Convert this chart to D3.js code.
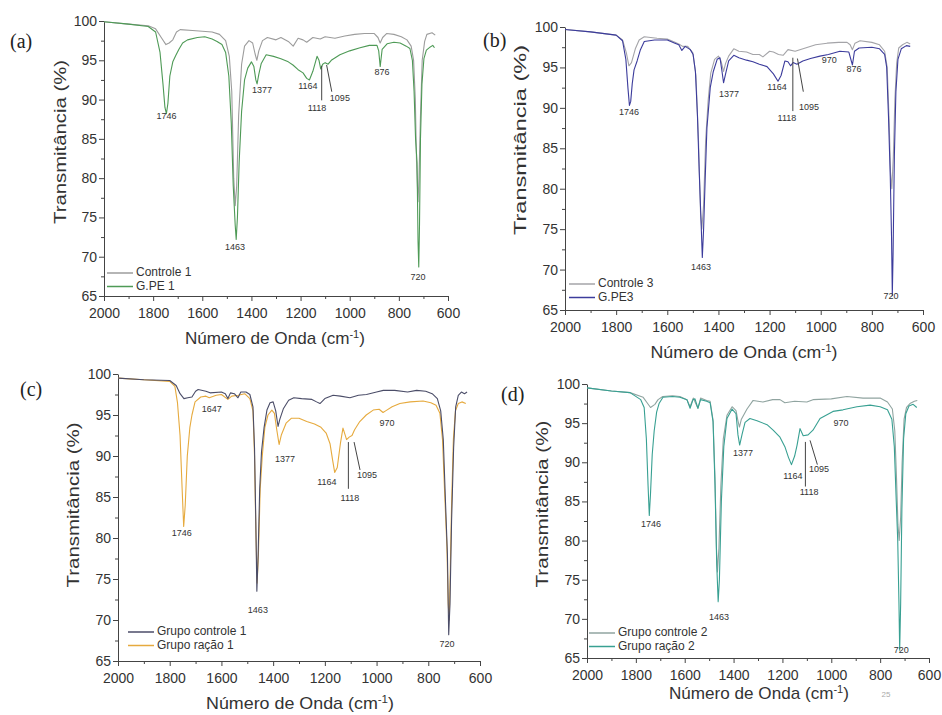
<!DOCTYPE html>
<html>
<head>
<meta charset="utf-8">
<script src="https://cdn.jsdelivr.net/npm/d3@7"></script>
<style>
  body { margin: 0; background: #fff; }
  svg { display: block; font-family: Arial, "Liberation Sans", sans-serif; }
</style>
</head>
<body>
<div id="chart"></div>
<script>
// axis ticks
const waveTicks = [2000, 1800, 1600, 1400, 1200, 1000, 800, 600];
const waveMinor = [1900, 1700, 1500, 1300, 1100, 900, 700];
const transTicks = [65, 70, 75, 80, 85, 90, 95, 100];
const transMinor = [67.5, 72.5, 77.5, 82.5, 87.5, 92.5, 97.5];

// (a) [wavenumber, transmittance]
const controle1 = [[2000,99.9],[1900,99.6],[1820,99.4],[1790,99.0],[1765,97.8],[1748,97.0],[1735,97.2],[1720,97.6],[1705,98.6],[1690,98.9],[1640,98.8],[1600,98.7],[1560,98.6],[1530,98.3],[1505,97.5],[1490,95.5],[1480,91],[1472,80],[1466,76.5],[1460,79],[1452,88],[1440,94.5],[1428,96.8],[1410,97.5],[1395,97.2],[1385,95.8],[1378,95.0],[1370,96.2],[1355,97.5],[1335,97.9],[1300,97.6],[1280,97.9],[1250,97.4],[1230,96.8],[1210,97.8],[1190,97.6],[1175,97.3],[1150,97.9],[1120,97.7],[1100,98.0],[1060,97.8],[1020,98.1],[980,98.3],[940,98.4],[900,98.4],[885,97.9],[876,97.2],[866,97.9],[850,98.4],[820,98.3],[790,98.0],[767,97.6],[750,96.8],[740,95.0],[733,90],[728,82],[722,77],[718,80],[712,88],[705,95],[695,97.4],[686,98.3],[665,98.5],[652,98.2]];
const gpe1 = [[2000,99.9],[1900,99.6],[1820,99.3],[1790,98.6],[1772,96],[1760,92],[1752,89],[1746,88.2],[1740,89.5],[1732,93],[1720,94.8],[1708,95.6],[1695,96.4],[1680,97.2],[1660,97.6],[1620,97.9],[1590,98.0],[1560,97.7],[1540,97.4],[1520,97.0],[1505,96.0],[1492,93],[1482,87],[1474,79],[1466,74],[1462,72.2],[1457,75],[1450,82],[1440,88.5],[1428,92.5],[1415,94.0],[1400,94.8],[1390,94.2],[1382,92.5],[1377,92.0],[1370,93.2],[1360,94.6],[1340,95.7],[1310,95.5],[1280,95.2],[1250,94.8],[1231,94.4],[1210,93.8],[1190,93.4],[1175,92.7],[1164,92.5],[1150,93.6],[1133,95.5],[1125,95.0],[1118,93.9],[1110,94.5],[1100,94.7],[1088,94.5],[1075,95.0],[1040,95.7],[1000,96.2],[958,96.6],[920,96.9],[889,96.9],[882,96.2],[876,94.2],[868,96.4],[848,97.1],[820,97.3],[795,97.2],[770,96.8],[755,96.5],[745,95.0],[738,91],[732,85],[726,82],[722,72],[719,68.7],[716,74],[712,85],[706,92],[698,95.2],[688,96.3],[672,96.7],[662,96.9],[655,96.6]];

// (b)
const controle3 = [[2000,99.7],[1900,99.4],[1800,99.0],[1775,98.4],[1760,96.8],[1750,95.2],[1740,95.6],[1725,97.3],[1710,98.4],[1690,98.8],[1640,98.6],[1600,98.5],[1570,98.1],[1555,97.9],[1540,97.6],[1520,97.6],[1500,96.8],[1488,94],[1478,86],[1470,77],[1465,75],[1458,78],[1450,86],[1440,91],[1430,94.3],[1415,96.0],[1400,96.4],[1390,95.8],[1380,94.5],[1372,95.5],[1360,96.4],[1340,97.3],[1320,97.0],[1290,96.9],[1265,96.6],[1240,96.6],[1226,96.3],[1200,97.0],[1185,96.9],[1165,96.6],[1147,96.5],[1128,97.2],[1100,97.0],[1060,97.4],[1020,97.8],[975,98.0],[930,98.1],[897,98.1],[885,97.8],[876,97.2],[866,98.0],[846,98.3],[800,98.1],[770,97.8],[750,97.0],[740,95],[732,88],[727,82],[722,80],[716,84],[710,91],[703,95.5],[695,97.4],[680,97.8],[663,98.1],[650,97.9]];
const gpe3 = [[2000,99.7],[1900,99.4],[1800,99.0],[1775,98.3],[1762,96],[1754,92.5],[1748,90.3],[1743,90.8],[1737,93],[1730,94.7],[1718,95.8],[1705,97.2],[1690,98.2],[1650,98.4],[1600,98.4],[1570,98.0],[1555,97.8],[1543,97.1],[1530,97.6],[1510,97.2],[1499,96.6],[1490,94.5],[1482,89],[1475,82],[1468,76],[1463,71.5],[1458,75],[1452,81],[1445,87.5],[1432,92.5],[1420,94.5],[1405,96.0],[1394,96.2],[1386,94.5],[1380,93.1],[1372,94.2],[1360,95.8],[1340,96.5],[1320,96.2],[1290,95.9],[1265,95.7],[1240,95.4],[1210,95.1],[1185,94.2],[1167,93.3],[1155,94.0],[1140,95.8],[1128,95.7],[1118,95.2],[1108,95.6],[1093,95.4],[1070,95.8],[1040,96.1],[1003,96.4],[970,96.6],[925,97.0],[890,96.9],[876,95.3],[868,97.0],[850,97.4],[800,97.5],[770,97.3],[750,96.6],[742,95],[735,89],[728,81.5],[723,74],[720,66.8],[717,72],[712,84],[706,92],[698,96],[685,97.3],[665,97.7],[650,97.6]];

// (c)
const grupoControle1 = [[2000,99.5],[1900,99.3],[1800,99.2],[1775,98.6],[1760,97.6],[1745,97.0],[1730,97.1],[1714,97.2],[1700,97.9],[1690,98.1],[1660,97.9],[1644,97.7],[1600,97.8],[1585,97.6],[1575,97.0],[1565,97.7],[1550,97.6],[1536,97.1],[1525,97.8],[1505,97.8],[1490,97.5],[1478,96.0],[1472,91],[1467,82],[1463,73.5],[1458,78],[1452,86],[1445,90.5],[1435,93.5],[1424,95.6],[1412,96.5],[1400,96.6],[1390,95.5],[1381,93.6],[1374,94.5],[1360,95.8],[1340,96.8],[1320,97.1],[1290,97.0],[1250,96.9],[1232,96.6],[1219,96.4],[1200,97.0],[1168,97.4],[1140,97.3],[1103,97.1],[1070,97.4],[1039,97.5],[1000,97.8],[974,98.0],[930,98.0],[880,97.8],[845,98.0],[810,97.9],[785,97.6],[765,97.0],[752,95.5],[742,92],[733,84],[726,78],[721,68.2],[716,72],[710,82],[702,91],[694,96.0],[684,97.4],[672,97.8],[660,97.6],[650,97.8]];
const grupoRacao1 = [[2000,99.5],[1900,99.3],[1800,99.1],[1780,98.5],[1770,96.5],[1760,92.5],[1752,86],[1746,81.4],[1740,84],[1732,90],[1722,93.5],[1714,95.0],[1702,96.6],[1680,97.2],[1660,97.3],[1647,97.1],[1620,97.4],[1600,97.5],[1575,96.9],[1560,97.3],[1535,97.4],[1510,97.6],[1490,97.0],[1478,95.5],[1472,90],[1467,81],[1462,74.5],[1457,78],[1450,86],[1442,90],[1432,93.5],[1420,95.0],[1405,95.6],[1395,95.2],[1386,93.2],[1377,91.4],[1368,92.6],[1350,94.0],[1330,94.6],[1300,94.6],[1270,94.2],[1240,93.9],[1215,93.5],[1195,92.8],[1180,91.5],[1170,89.5],[1162,88.0],[1152,88.6],[1140,91.5],[1130,93.4],[1122,92.6],[1116,92.0],[1106,92.3],[1095,92.5],[1085,93.2],[1065,94.2],[1040,95.0],[1013,95.6],[990,95.7],[975,95.3],[965,95.5],[940,96.0],[910,96.4],[870,96.6],[820,96.7],[790,96.5],[770,96.2],[755,95.2],[745,92],[736,85],[728,79],[723,72],[719,70],[715,76],[710,84],[703,92],[695,95.5],[684,96.4],[670,96.6],[655,96.4]];

// (d)
const grupoControle2 = [[2000,99.5],[1900,99.1],[1824,98.9],[1770,98.3],[1754,97.6],[1740,97.0],[1722,97.4],[1709,98.0],[1690,98.4],[1650,98.5],[1620,98.4],[1591,98.0],[1578,97.1],[1565,98.2],[1546,96.9],[1535,98.2],[1510,97.9],[1496,97.8],[1484,95.4],[1476,88],[1470,79],[1466,76],[1460,79],[1452,87],[1442,93],[1427,96.0],[1406,97.1],[1390,96.6],[1382,95.3],[1376,94.5],[1368,95.5],[1345,96.8],[1320,97.9],[1280,97.7],[1240,98.0],[1210,98.0],[1190,97.6],[1150,97.8],[1100,97.7],[1075,98.0],[1000,98.1],[936,98.4],[870,98.2],[800,98.2],[770,97.7],[750,96.8],[740,94],[733,88],[727,82],[722,80],[716,83],[710,90],[702,95.5],[692,97.0],[678,97.5],[660,97.8],[648,97.9]];
const grupoRacao2 = [[2000,99.5],[1900,99.1],[1824,98.9],[1780,98.0],[1766,97.0],[1757,93],[1750,87],[1745,83.2],[1740,86],[1733,91],[1725,94],[1715,96.4],[1705,97.5],[1689,98.3],[1650,98.4],[1620,98.3],[1591,98.0],[1578,96.9],[1566,98.0],[1558,98.1],[1546,96.9],[1535,98.0],[1510,97.8],[1496,97.6],[1484,95.2],[1476,87],[1469,77],[1463,72.2],[1458,75],[1450,85],[1440,92],[1427,95.6],[1406,96.8],[1390,96.2],[1382,93.5],[1375,92.2],[1365,93.6],[1353,95.1],[1333,95.6],[1304,95.3],[1263,94.8],[1238,94.1],[1210,93.2],[1190,92.0],[1175,90.6],[1163,89.7],[1150,90.8],[1140,92.2],[1128,94.3],[1115,93.4],[1095,93.5],[1075,94.1],[1046,95.6],[993,96.5],[952,96.7],[895,97.1],[841,97.3],[800,97.1],[770,96.7],[752,95.5],[742,92],[734,85],[728,80],[723,72],[720,66],[716,72],[711,84],[704,93],[695,96.2],[682,97.2],[665,97.4],[650,97.0]];

// peak labels: [text, wavenumber, transmittance] in data units
const peaksA = [["1746",1746,87.8],["1463",1467,71.1],["1377",1357,91.1],["1164",1170,91.6],["1118",1133,88.9],["1095",1040,90.1],["876",869,93.4],["720",722,67.4]];
const peaksB = [["1746",1750,89.4],["1463",1468,70.2],["1377",1359,91.6],["1164",1171,92.5],["1118",1132,88.7],["1095",1046,90.0],["970",967,95.9],["876",870,94.7],["720",725,66.6]];
const peaksC = [["1647",1637,95.7],["1746",1753,80.5],["1463",1459,71.2],["1377",1354,89.6],["1164",1192,86.8],["1118",1103,84.8],["1095",1037,87.6],["970",960,93.9],["720",728,67.0]];
const peaksD = [["1746",1738,82.1],["1463",1460,70.2],["1377",1361,91.1],["1164",1157,88.2],["1118",1091,86.1],["1095",1050,89.0],["970",960,94.9],["720",714,65.9]];

// leader lines: [w1, t1, w2, t2]
const leadersA = [[1114,94.3,1114,89.9],[1094,94.4,1073,91.0]];
const leadersB = [[1109,96.2,1109,89.6],[1091,96.1,1068,92.0]];
const leadersC = [[1109,91.7,1109,86.0],[1087,91.7,1064,88.3]];
const leadersD = [[1106,92.6,1106,86.9],[1087,92.8,1057,89.7]];

const panels = [
  { tag: "(a)", tagX: 10, tagY: 48, left: 104, right: 448, top: 21, bottom: 296,
    series: [
      { name: "Controle 1", data: controle1, color: "#9c9c9c" },
      { name: "G.PE 1", data: gpe1, color: "#4e9a56" }],
    peaks: peaksA, leaders: leadersA, legX: 107, legY: 273,
    xTitleX: 275, xTitleY: 344, xTitleLen: 180, yTitleX: 66, yTitleY: 142, yTitleLen: 164 },
  { tag: "(b)", tagX: 483, tagY: 47, left: 565, right: 923, top: 27, bottom: 310,
    series: [
      { name: "Controle 3", data: controle3, color: "#a4a4a8" },
      { name: "G.PE3", data: gpe3, color: "#3c3c9c" }],
    peaks: peaksB, leaders: leadersB, legX: 569, legY: 284,
    xTitleX: 744, xTitleY: 358, xTitleLen: 187, yTitleX: 526, yTitleY: 140, yTitleLen: 190 },
  { tag: "(c)", tagX: 20, tagY: 396, left: 118, right: 480, top: 374, bottom: 661,
    series: [
      { name: "Grupo ração 1", data: grupoRacao1, color: "#e6aa3e" },
      { name: "Grupo controle 1", data: grupoControle1, color: "#4b4d68" }],
    legendOrder: [1, 0],
    peaks: peaksC, leaders: leadersC, legX: 128, legY: 632,
    xTitleX: 300, xTitleY: 709, xTitleLen: 188, yTitleX: 79, yTitleY: 505, yTitleLen: 165 },
  { tag: "(d)", tagX: 501, tagY: 401, left: 587, right: 929, top: 384, bottom: 658,
    series: [
      { name: "Grupo controle 2", data: grupoControle2, color: "#90a4a0" },
      { name: "Grupo ração 2", data: grupoRacao2, color: "#38a092" }],
    peaks: peaksD, leaders: leadersD, legX: 589, legY: 633,
    xTitleX: 759, xTitleY: 699, xTitleLen: 180, yTitleX: 548, yTitleY: 504, yTitleLen: 167 }
];

const svg = d3.select("#chart").append("svg")
  .attr("width", 942).attr("height", 715);

panels.forEach((p) => {
  const x = d3.scaleLinear().domain([2000, 600]).range([p.left, p.right]);
  const y = d3.scaleLinear().domain([65, 100]).range([p.bottom, p.top]);
  const g = svg.append("g");

  // minor ticks
  g.append("g").attr("transform", `translate(0,${p.bottom})`)
    .call(d3.axisBottom(x).tickValues(waveMinor).tickSize(3).tickFormat(""))
    .call((s) => s.select(".domain").remove());
  g.append("g").attr("transform", `translate(${p.left},0)`)
    .call(d3.axisLeft(y).tickValues(transMinor).tickSize(3).tickFormat(""))
    .call((s) => s.select(".domain").remove());

  // main axes
  const xa = g.append("g").attr("transform", `translate(0,${p.bottom})`)
    .call(d3.axisBottom(x).tickValues(waveTicks).tickFormat(d3.format("d"))
      .tickSize(5).tickSizeOuter(0).tickPadding(7));
  const ya = g.append("g").attr("transform", `translate(${p.left},0)`)
    .call(d3.axisLeft(y).tickValues(transTicks).tickFormat(d3.format("d"))
      .tickSize(5).tickSizeOuter(0).tickPadding(2));
  [xa, ya].forEach((a) => {
    a.selectAll("text").attr("font-size", 14).attr("fill", "#333")
      .attr("font-family", "Arial, 'Liberation Sans', sans-serif");
    a.selectAll("line, path").attr("stroke", "#444");
  });
  g.selectAll(".tick line").attr("stroke", "#444");

  // spectra
  const line = d3.line().x((d) => x(d[0])).y((d) => y(d[1]));
  p.series.forEach((s) => {
    g.append("path").datum(s.data)
      .attr("d", line)
      .attr("fill", "none")
      .attr("stroke", s.color)
      .attr("stroke-width", 1.1)
      .attr("stroke-linejoin", "round");
  });

  // leader lines
  g.selectAll(".leader").data(p.leaders).enter().append("line")
    .attr("x1", (d) => x(d[0])).attr("y1", (d) => y(d[1]))
    .attr("x2", (d) => x(d[2])).attr("y2", (d) => y(d[3]))
    .attr("stroke", "#444").attr("stroke-width", 1);

  // peak labels
  g.selectAll(".peak").data(p.peaks).enter().append("text")
    .attr("x", (d) => x(d[1])).attr("y", (d) => y(d[2]))
    .attr("text-anchor", "middle").attr("dominant-baseline", "middle")
    .attr("font-size", 9).attr("fill", "#333")
    .text((d) => d[0]);

  // legend
  const order = p.legendOrder || p.series.map((s, i) => i);
  order.forEach((si, k) => {
    const s = p.series[si];
    const ly = p.legY + k * 13.5;
    g.append("line")
      .attr("x1", p.legX).attr("x2", p.legX + 26)
      .attr("y1", ly).attr("y2", ly)
      .attr("stroke", s.color).attr("stroke-width", 1.5);
    g.append("text")
      .attr("x", p.legX + 29).attr("y", ly)
      .attr("dominant-baseline", "middle")
      .attr("font-size", 12).attr("fill", "#333")
      .text(s.name);
  });

  // axis titles
  const xt = g.append("text")
    .attr("x", p.xTitleX).attr("y", p.xTitleY)
    .attr("text-anchor", "middle")
    .attr("font-size", 17).attr("fill", "#333")
    .attr("textLength", p.xTitleLen).attr("lengthAdjust", "spacingAndGlyphs");
  xt.append("tspan").text("Número de Onda (cm");
  xt.append("tspan").attr("dy", -6).attr("font-size", 11).text("-1");
  xt.append("tspan").attr("dy", 6).text(")");

  g.append("text")
    .attr("transform", `translate(${p.yTitleX},${p.yTitleY}) rotate(-90)`)
    .attr("text-anchor", "middle")
    .attr("font-size", 17).attr("fill", "#333")
    .attr("textLength", p.yTitleLen).attr("lengthAdjust", "spacingAndGlyphs")
    .text("Transmitância (%)");

  // panel tag
  g.append("text")
    .attr("x", p.tagX).attr("y", p.tagY)
    .attr("font-family", "'Liberation Serif', 'DejaVu Serif', serif")
    .attr("font-size", 20).attr("fill", "#222")
    .text(p.tag);
});

// page number
svg.append("text").attr("x", 886).attr("y", 697)
  .attr("text-anchor", "middle").attr("font-size", 8).attr("fill", "#aaa")
  .text("25");
</script>
</body>
</html>
